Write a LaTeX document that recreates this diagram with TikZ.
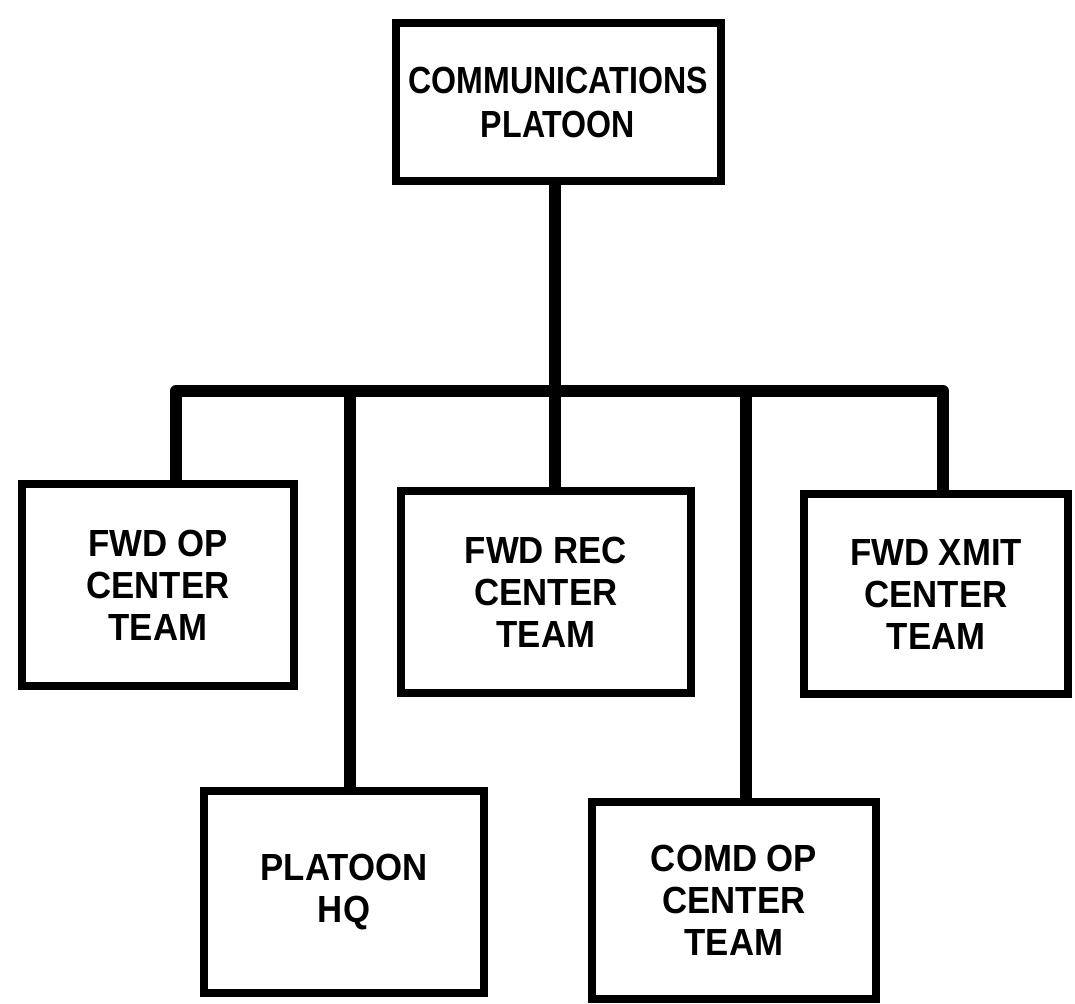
\documentclass[tikz,border=0pt]{standalone}
\usepackage{fontspec}
\newfontfamily\lbl{Liberation Sans}[FakeStretch=0.92]
\newfontfamily\lbltop{Liberation Sans}[FakeStretch=0.85]
\begin{document}
\begin{tikzpicture}[x=0.5pt,y=-0.5pt,
  box/.style={draw=black, line width=4pt, inner sep=0pt, align=center,
    font=\lbl\bfseries\fontsize{18.9}{21}\selectfont},
  topbox/.style={box, font=\lbltop\bfseries\fontsize{18.9}{22}\selectfont},
  link/.style={draw=black, line width=6pt, line join=round}]
\fill[white] (0,0) rectangle (1075,1004);
\useasboundingbox (0,0) rectangle (1075,1004);

\node[topbox, minimum width=162.5pt, minimum height=79pt] (top) at (558,102) {COMMUNICATIONS\\PLATOON};
\node[box, minimum width=136pt, minimum height=100.5pt] (op) at (158,585) {FWD OP\\CENTER\\TEAM};
\node[box, minimum width=145pt, minimum height=100.5pt] (rec) at (546,592) {FWD REC\\CENTER\\TEAM};
\node[box, minimum width=132pt, minimum height=100pt] (xmit) at (936,594) {FWD XMIT\\CENTER\\TEAM};
\node[box, minimum width=140pt, minimum height=101pt] (hq) at (344,892) {PLATOON\\HQ};
\node[box, minimum width=142pt, minimum height=98.5pt] (comd) at (734,900) {COMD OP\\CENTER\\TEAM};

\coordinate (bL) at (176,391);
\coordinate (bR) at (943,391);
\coordinate (bM) at (555,391);
\coordinate (bH) at (350,391);
\coordinate (bC) at (746,391);

\draw[link] (top.south -| bM) -- (rec.north -| bM);
\draw[link] (op.north -| bL) -- (bL) -- (bR) -- (xmit.north -| bR);
\draw[link] (bH) -- (hq.north -| bH);
\draw[link] (bC) -- (comd.north -| bC);
\end{tikzpicture}
\end{document}
